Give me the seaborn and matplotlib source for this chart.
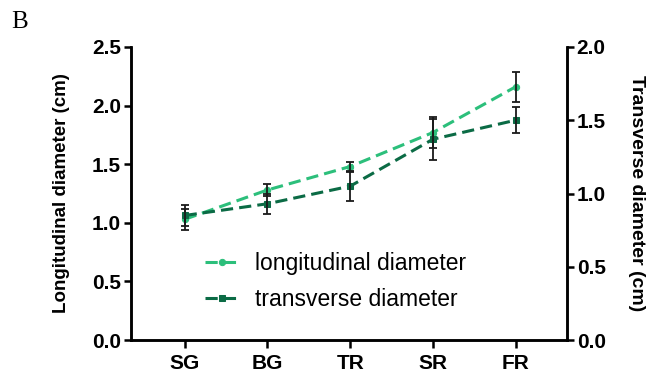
import numpy as np
import pandas as pd
import matplotlib
matplotlib.use("Agg")
import matplotlib.pyplot as plt
import matplotlib.ticker as mticker
import seaborn as sns

# ── data ────────────────────────────────────────────
stages = ["SG", "BG", "TR", "SR", "FR"]
long_mean = [1.03, 1.28, 1.48, 1.77, 2.16]
long_err = [0.09, 0.05, 0.04, 0.13, 0.13]
trans_mean = [0.85, 0.93, 1.05, 1.37, 1.50]
trans_err = [0.07, 0.07, 0.10, 0.14, 0.09]

C_LONG = "#2cbf7b"
C_TRANS = "#0b6b45"

sns.set_style("ticks")
plt.rcParams.update({
    "font.family": ["Liberation Sans", "DejaVu Sans"],
    "text.color": "black",
    "axes.labelcolor": "black",
    "axes.edgecolor": "black",
    "xtick.color": "black",
    "ytick.color": "black",
})

df = pd.DataFrame({"x": np.arange(len(stages)), "long": long_mean, "trans": trans_mean})

fig = plt.figure(figsize=(6.48, 3.75), dpi=100)
ax = fig.add_axes([0.202, 0.093, 0.673, 0.782])
ax2 = ax.twinx()

# longitudinal -> left axis
sns.lineplot(data=df, x="x", y="long", ax=ax, color=C_LONG, lw=2.2,
             marker="o", ms=4.5, mec=C_LONG, label="longitudinal diameter", legend=False)
ax.lines[-1].set_dashes([4, 2])
ax.errorbar(df["x"], long_mean, yerr=long_err, fmt="none", ecolor="#1a1a1a",
            elinewidth=1.3, capsize=3, capthick=1.3, zorder=5)

# transverse -> right axis
sns.lineplot(data=df, x="x", y="trans", ax=ax2, color=C_TRANS, lw=2.2,
             marker="s", ms=4.5, mec=C_TRANS, label="transverse diameter", legend=False)
ax2.lines[-1].set_dashes([4, 2])
ax2.errorbar(df["x"], trans_mean, yerr=trans_err, fmt="none", ecolor="#1a1a1a",
             elinewidth=1.3, capsize=3, capthick=1.3, zorder=5)

ax.set_xlim(-0.65, 4.62)
ax.set_ylim(0, 2.5)
ax2.set_ylim(0, 2.0)
ax.set_yticks([0, 0.5, 1.0, 1.5, 2.0, 2.5])
ax2.set_yticks([0, 0.5, 1.0, 1.5, 2.0])
ax.yaxis.set_major_formatter(mticker.FormatStrFormatter("%.1f"))
ax2.yaxis.set_major_formatter(mticker.FormatStrFormatter("%.1f"))
ax.set_xticks(range(len(stages)))
ax.set_xticklabels(stages)

for a in (ax, ax2):
    a.tick_params(width=1.8, length=5, labelsize=15, direction="out", pad=2)
    for lab in a.get_yticklabels() + a.get_xticklabels():
        lab.set_fontweight("bold")
    a.spines["top"].set_visible(False)
    for s in ("left", "right", "bottom"):
        a.spines[s].set_linewidth(1.8)
ax.tick_params(axis="x", length=6, pad=4)

ax.set_xlabel("")
ax.set_ylabel("Longitudinal diameter (cm)", fontsize=13.5, fontweight="bold", labelpad=16)
ax2.set_ylabel("Transverse diameter (cm)", fontsize=14, fontweight="bold",
               rotation=270, labelpad=28)

h1, l1 = ax.get_legend_handles_labels()
h2, l2 = ax2.get_legend_handles_labels()
ax.legend(h1 + h2, l1 + l2, loc="center left", bbox_to_anchor=(0.122, 0.2),
          frameon=False, fontsize=16.5, handlelength=1.5, handletextpad=0.7,
          labelspacing=0.55)

fig.text(0.018, 0.925, "B", fontsize=18, family="Liberation Serif")

fig.savefig("out.png", dpi=100)
